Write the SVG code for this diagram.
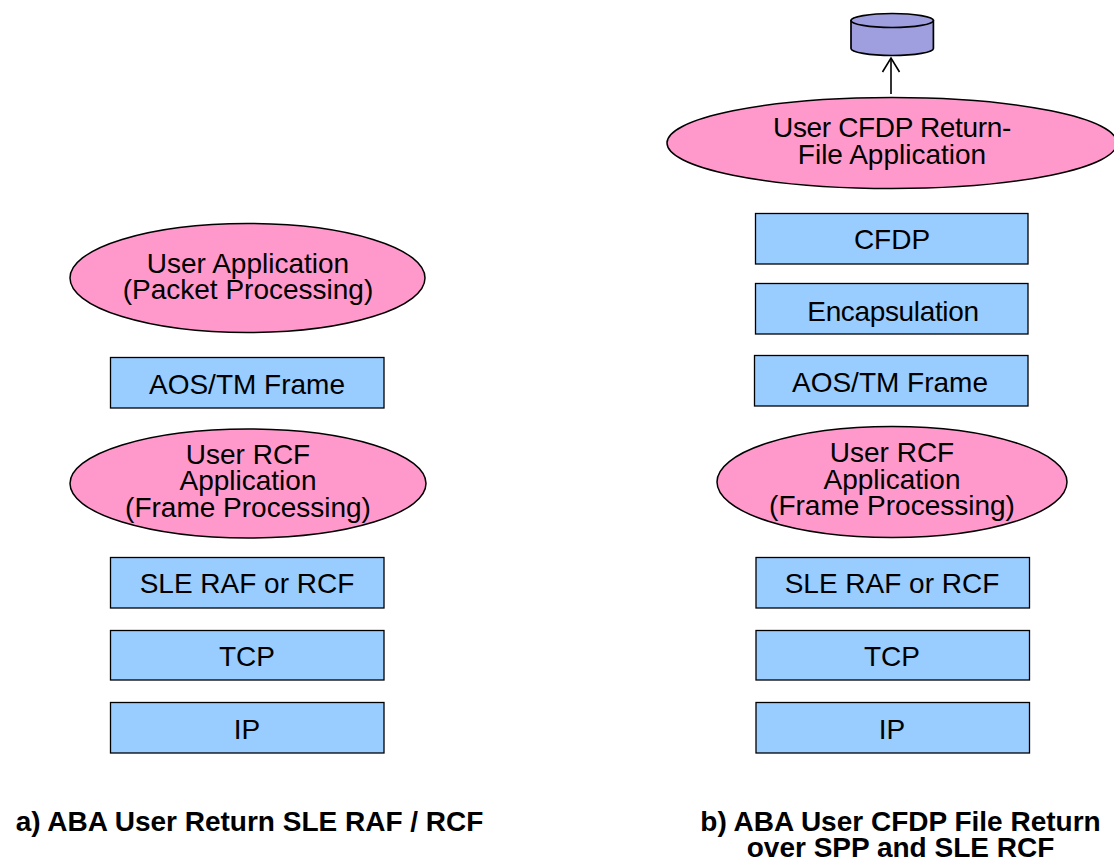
<svg xmlns="http://www.w3.org/2000/svg" width="1114" height="859" viewBox="0 0 1114 859">
<style>
.r{fill:#99ccff;stroke:#000;stroke-width:1.3}
.e{fill:#ff99cc;stroke:#000;stroke-width:1.5}
text{font-family:"Liberation Sans",Arial,sans-serif;font-size:28px;fill:#000;text-anchor:middle}
.c{font-weight:bold;font-size:28px}
.n{letter-spacing:-0.35px}
.cyl{fill:#9f9fdf;stroke:#000;stroke-width:1.7}
</style>
<defs><marker id="a" markerUnits="userSpaceOnUse" markerWidth="22" markerHeight="22" refX="15" refY="10" orient="auto"><path d="M1 1.500L15 10L1 18.500" fill="none" stroke="#000" stroke-width="1.6"/></marker></defs>
<rect width="1114" height="859" fill="#fff"/>
<g id="connectors"><path d="M891 94V58" fill="none" stroke="#000" stroke-width="1.6" marker-end="url(#a)"/></g>
<g id="db"><path class="cyl" d="M851 20.500V48.500A41.200 7 0 0 0 933.400 48.500V20.500Z"/><ellipse class="cyl" cx="892.200" cy="20.500" rx="41.200" ry="7"/></g>
<g id="a-app"><ellipse class="e" cx="247.500" cy="278" rx="177.500" ry="54.500"/><text x="248" y="273">User Application</text><text x="248" y="299">(Packet Processing)</text></g>
<g id="a-aos"><rect class="r" x="110.500" y="357.500" width="273.500" height="50.500"/><text x="247" y="394">AOS/TM Frame</text></g>
<g id="a-rcf"><ellipse class="e" cx="248" cy="483.500" rx="178" ry="54.500"/><text x="248" y="464">User RCF</text><text x="248" y="490">Application</text><text x="248" y="517">(Frame Processing)</text></g>
<g id="a-sle"><rect class="r" x="110.500" y="557.500" width="273.500" height="50.500"/><text x="247" y="593">SLE RAF or RCF</text></g>
<g id="a-tcp"><rect class="r" x="110.500" y="630.500" width="273.500" height="49.500"/><text x="247" y="666">TCP</text></g>
<g id="a-ip"><rect class="r" x="110.500" y="702.500" width="273.500" height="50.500"/><text x="247" y="739">IP</text></g>
<g id="b-app"><ellipse class="e" cx="892" cy="143" rx="225" ry="45.500"/><text class="n" x="892" y="137">User CFDP Return-</text><text x="892" y="164">File Application</text></g>
<g id="b-cfdp"><rect class="r" x="755.500" y="213.500" width="272.500" height="50.500"/><text x="892" y="249">CFDP</text></g>
<g id="b-enc"><rect class="r" x="755.500" y="283.500" width="272.500" height="50.500"/><text class="n" x="893" y="321">Encapsulation</text></g>
<g id="b-aos"><rect class="r" x="754.500" y="355.500" width="273.500" height="50.500"/><text x="890" y="392">AOS/TM Frame</text></g>
<g id="b-rcf"><ellipse class="e" cx="892" cy="482" rx="175" ry="55.500"/><text x="892" y="462">User RCF</text><text x="892" y="489">Application</text><text x="892" y="515">(Frame Processing)</text></g>
<g id="b-sle"><rect class="r" x="756" y="557.500" width="273.500" height="50.500"/><text x="892" y="593">SLE RAF or RCF</text></g>
<g id="b-tcp"><rect class="r" x="756" y="630.500" width="273.500" height="49.500"/><text x="892" y="666">TCP</text></g>
<g id="b-ip"><rect class="r" x="756" y="702.500" width="273.500" height="50.500"/><text x="892" y="739">IP</text></g>
<g id="captions"><text class="c" x="249.500" y="831">a) ABA User Return SLE RAF / RCF</text><text class="c" x="900.500" y="831">b) ABA User CFDP File Return</text><text class="c" x="900.500" y="857">over SPP and SLE RCF</text></g>
</svg>
